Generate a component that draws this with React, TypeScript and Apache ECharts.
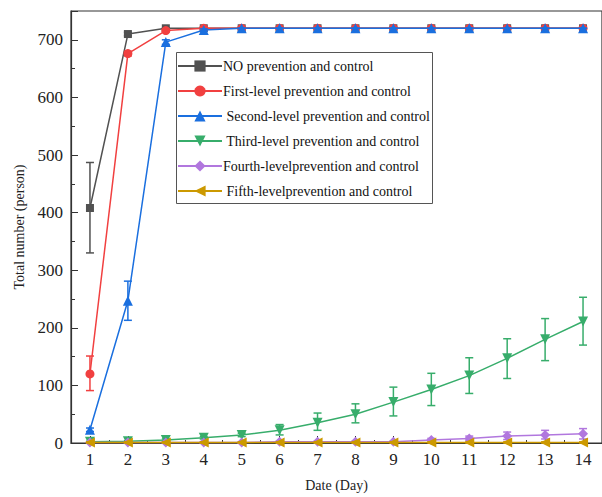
import React, { useEffect, useRef } from "react";
import * as echarts from "echarts";

const days = [1, 2, 3, 4, 5, 6, 7, 8, 9, 10, 11, 12, 13, 14];
const dayLabels = ["1", "2", "3", "4", "5", "6", "7", "8", "9", "10", "11", "12", "13", "14"];
const seriesNames = [
  "NO prevention and control",
  "First-level prevention and control",
  " Second-level prevention and control",
  " Third-level prevention and control",
  "Fourth-levelprevention and control",
  " Fifth-levelprevention and control",
];
const colors = ["#515151", "#F14040", "#1A6FDF", "#37AD6B", "#B177DE", "#CC9900"];
const symbols = ["rect", "circle", "triangle", "path://M0,0 L10,0 L5,9 Z", "diamond", "path://M9,0 L9,10 L0,5 Z"];
const symbolSizes = [8, 9, 10, 10, 10, 10];

const noValues = [408, 710, 720, 720, 720, 720, 720, 720, 720, 720, 720, 720, 720, 720];
const firstValues = [120, 676, 716, 720, 720, 720, 720, 720, 720, 720, 720, 720, 720, 720];
const secondValues = [23, 247, 696, 717, 720, 720, 720, 720, 720, 720, 720, 720, 720, 720];
const thirdValues = [2, 3, 5, 9, 14, 22, 35, 50, 71, 93, 117, 147, 180, 211];
const fourthValues = [1, 1, 1, 1, 1, 2, 2, 2, 2, 5, 8, 12, 14, 16];
const fifthValues = [1, 1, 1, 1, 1, 1, 1, 1, 1, 1, 1, 1, 1, 1];

const noErrLow = [330, 707, 720, 720, 720, 720, 720, 720, 720, 720, 720, 720, 720, 720];
const noErrHigh = [487, 713, 720, 720, 720, 720, 720, 720, 720, 720, 720, 720, 720, 720];
const firstErrLow = [91, 672, 714, 720, 720, 720, 720, 720, 720, 720, 720, 720, 720, 720];
const firstErrHigh = [151, 680, 718, 720, 720, 720, 720, 720, 720, 720, 720, 720, 720, 720];
const secondErrLow = [20, 213, 692, 715, 720, 720, 720, 720, 720, 720, 720, 720, 720, 720];
const secondErrHigh = [26, 281, 700, 719, 720, 720, 720, 720, 720, 720, 720, 720, 720, 720];
const thirdErrLow = [1, 2, 3, 7, 11, 14, 22, 35, 47, 65, 86, 112, 143, 170];
const thirdErrHigh = [3, 4, 7, 11, 17, 32, 52, 68, 97, 121, 148, 181, 216, 253];
const fourthErrLow = [0, 0, 0, 0, 0, 1, 1, 1, 1, 2, 4, 6, 7, 7];
const fourthErrHigh = [2, 2, 2, 2, 2, 3, 3, 3, 3, 8, 12, 19, 22, 25];
const fifthErrLow = [0, 0, 0, 0, 0, 0, 0, 0, 0, 0, 0, 0, 0, 0];
const fifthErrHigh = [2, 2, 2, 2, 2, 2, 2, 2, 2, 2, 2, 2, 2, 2];

const allValues = [noValues, firstValues, secondValues, thirdValues, fourthValues, fifthValues];
const allLow = [noErrLow, firstErrLow, secondErrLow, thirdErrLow, fourthErrLow, fifthErrLow];
const allHigh = [noErrHigh, firstErrHigh, secondErrHigh, thirdErrHigh, fourthErrHigh, fifthErrHigh];

const FONT = "'Liberation Serif', 'Times New Roman', serif";

export default function App() {
  const ref = useRef<HTMLDivElement>(null);
  useEffect(() => {
    if (!ref.current) return;
    const chart = echarts.init(ref.current, null, { renderer: "svg" });
    const series: any[] = [];
    seriesNames.forEach((name, i) => {
      series.push({
        type: "custom",
        name: "err" + i,
        xAxisIndex: 0,
        yAxisIndex: 0,
        z: 2 + i * 2,
        data: days.map((d, k) => [d, allLow[i][k], allHigh[i][k]]),
        encode: { x: 0, y: [1, 2] },
        renderItem: (params: any, api: any) => {
          const x = api.value(0);
          const lo = api.coord([x, api.value(1)]);
          const hi = api.coord([x, api.value(2)]);
          const style = { stroke: colors[i], lineWidth: 1.5 };
          const cw = 4;
          return {
            type: "group",
            children: [
              { type: "line", shape: { x1: lo[0], y1: lo[1], x2: hi[0], y2: hi[1] }, style },
              { type: "line", shape: { x1: hi[0] - cw, y1: hi[1], x2: hi[0] + cw, y2: hi[1] }, style },
              { type: "line", shape: { x1: lo[0] - cw, y1: lo[1], x2: lo[0] + cw, y2: lo[1] }, style },
            ],
          };
        },
      });
      series.push({
        type: "line",
        name,
        xAxisIndex: 0,
        yAxisIndex: 0,
        z: 3 + i * 2,
        data: days.map((d, k) => [d, allValues[i][k]]),
        symbol: symbols[i],
        symbolSize: symbolSizes[i],
        showAllSymbol: true,
        lineStyle: { color: colors[i], width: 1.5 },
        itemStyle: { color: colors[i] },
      });
    });

    chart.setOption({
      animation: false,
      backgroundColor: "#ffffff",
      textStyle: { fontFamily: FONT },
      grid: {
        left: 71,
        right: -8,
        top: 11,
        bottom: 52,
        show: true,
        borderColor: "#333",
        borderWidth: 1.2,
        backgroundColor: "transparent",
      },
      graphic: [
        {
          type: "rect",
          shape: { x: 176.5, y: 52.5, width: 256, height: 151 },
          style: { fill: "#fff", stroke: "#555", lineWidth: 1 },
          z: 50,
        },
      ],
      legend: {
        show: true,
        orient: "vertical",
        left: 177,
        top: 59,
        z: 60,
        itemWidth: 44,
        itemHeight: 14,
        itemGap: 11,
        padding: 0,
        data: seriesNames,
        textStyle: { fontFamily: FONT, fontSize: 14, color: "#111", lineHeight: 14, padding: [0, 0, 0, -4] },
      },
      xAxis: [
        {
          type: "value",
          min: 0.5,
          max: 14.5,
          interval: 1,
          position: "bottom",
          axisLine: { show: true, lineStyle: { color: "#333", width: 1.2 } },
          axisTick: { show: true, inside: true, length: 3, lineStyle: { color: "#333" } },
          axisLabel: { show: false },
          splitLine: { show: false },
        },
        {
          type: "category",
          data: dayLabels,
          position: "bottom",
          boundaryGap: true,
          axisLine: { show: false },
          axisTick: { show: true, inside: true, alignWithLabel: true, length: 7, lineStyle: { color: "#333" } },
          axisLabel: { fontFamily: FONT, fontSize: 17, color: "#222", margin: 8 },
          splitLine: { show: false },
          name: "Date (Day)",
          nameLocation: "middle",
          nameGap: 35,
          nameTextStyle: { fontFamily: FONT, fontSize: 14, color: "#222" },
        },
      ],
      yAxis: [
        {
          type: "value",
          min: 0,
          max: 750,
          interval: 100,
          axisLine: { show: true, lineStyle: { color: "#333", width: 1.2 } },
          axisTick: { show: true, inside: true, length: 7, lineStyle: { color: "#333" } },
          axisLabel: {
            fontFamily: FONT,
            fontSize: 17,
            color: "#222",
            margin: 8,
            formatter: (v: number) => (v % 100 === 0 ? String(v) : ""),
          },
          splitLine: { show: false },
          name: "Total number (person)",
          nameLocation: "middle",
          nameGap: 44,
          nameTextStyle: { fontFamily: FONT, fontSize: 14, color: "#222" },
        },
        {
          type: "value",
          min: 0,
          max: 750,
          interval: 50,
          position: "left",
          axisLine: { show: false },
          axisTick: { show: true, inside: true, length: 4, lineStyle: { color: "#333" } },
          axisLabel: { show: false },
          splitLine: { show: false },
        },
      ],
      series,
    });
    return () => chart.dispose();
  }, []);
  return <div ref={ref} style={{ position: "fixed", left: 0, top: 0, width: 602, height: 497 }} />;
}
